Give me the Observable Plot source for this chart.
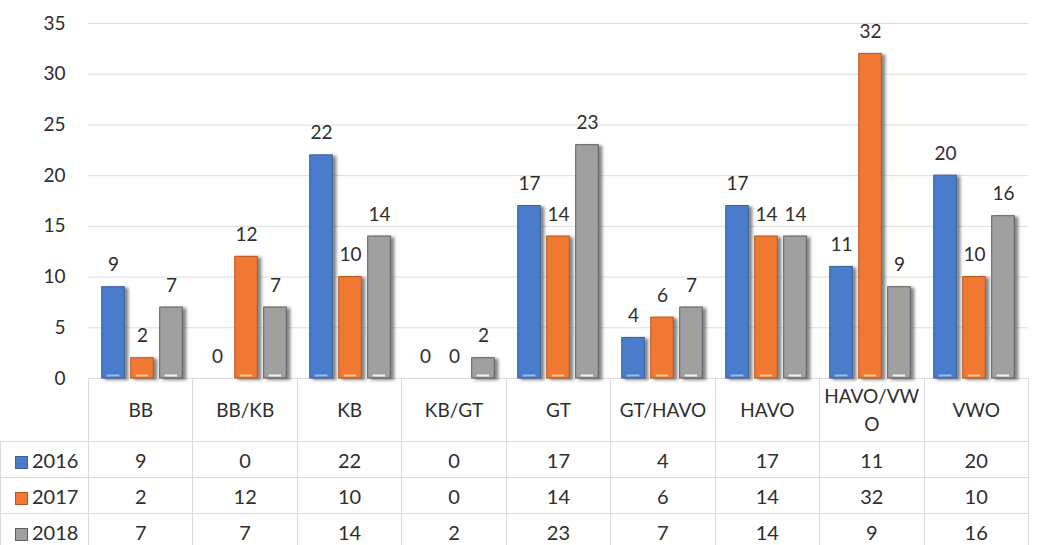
<!DOCTYPE html>
<html>
<head>
<meta charset="utf-8">
<script src="https://cdn.jsdelivr.net/npm/d3@7"></script>
<script src="https://cdn.jsdelivr.net/npm/@observablehq/plot@0.6"></script>
<style>
  body { margin: 0; background: #fff; font-family: Lato, "Open Sans", sans-serif; color: #2e2e2e; }
  #chart svg { display: block; }
  table { border-collapse: collapse; table-layout: fixed; font-size: 20px; margin-top: -2px; }
  td { border: 1px solid #dadada; text-align: center; vertical-align: middle; padding: 0 4px; height: 35px; line-height: 26px; }
  tr.cats td { height: 62px; font-size: 19px; word-break: break-all; line-height: 28px; }
  tr.cats td.blank { border-left: none; border-top: none; border-bottom: 1px solid #dadada; }
  td.key { text-align: left; padding-left: 14px; }
  .sw { display: inline-block; width: 13px; height: 13px; margin-right: 4px; vertical-align: -1px; box-sizing: border-box; }
</style>
</head>
<body>
<div id="chart"></div>
<table id="tbl"></table>
<script>
// ---- data ----
const categories = ["BB", "BB/KB", "KB", "KB/GT", "GT", "GT/HAVO", "HAVO", "HAVO/VWO", "VWO"];
const years = ["2016", "2017", "2018"];
const values2016 = [9, 0, 22, 0, 17, 4, 17, 11, 20];
const values2017 = [2, 12, 10, 0, 14, 6, 14, 32, 10];
const values2018 = [7, 7, 14, 2, 23, 7, 14, 9, 16];
const yTicks = [0, 5, 10, 15, 20, 25, 30, 35];

// ---- styling ----
const series = [values2016, values2017, values2018];
const fills = ["#4a7cca", "#ef7832", "#a0a0a0"];
const edges = ["#3a5f9c", "#b8561c", "#5e5e5e"];
const strips = ["#9cc0ee", "#f8c890", "#f4f4f4"];
const offsets = [-29, 0, 29];
const inset = 40.7;

const rows = categories.map((c, i) => ({cat: c, v: series.map(s => s[i])}));

const marks = [
  Plot.gridY(yTicks, {stroke: "#dcdcdc", strokeOpacity: 1}),
  Plot.axisY(yTicks, {tickSize: 0, tickPadding: 23, fill: "#2e2e2e"})
];
series.forEach((s, j) => {
  marks.push(Plot.barY(rows, {
    x: "cat", y: d => d.v[j], fill: fills[j], stroke: edges[j], strokeWidth: 1,
    insetLeft: inset, insetRight: inset, dx: offsets[j]
  }));
});
series.forEach((s, j) => {
  marks.push(Plot.tickY(rows.filter(d => d.v[j] > 0), {
    x: "cat", y: () => 0, dy: -3, stroke: strips[j], strokeWidth: 2,
    insetLeft: inset + 5, insetRight: inset + 5, dx: offsets[j]
  }));
  marks.push(Plot.text(rows, {
    x: "cat", y: d => d.v[j], text: d => String(d.v[j]), dx: offsets[j], dy: -16,
    lineAnchor: "bottom", fill: "#2e2e2e", fontSize: 19
  }));
});

const plot = Plot.plot({
  width: 1047,
  height: 380,
  marginTop: 23,
  marginBottom: 2,
  marginLeft: 88,
  marginRight: 19,
  style: {fontFamily: "Lato, 'Open Sans', sans-serif", fontSize: "19px", color: "#2e2e2e", background: "#fff", overflow: "visible"},
  x: {domain: categories, padding: 0, axis: null},
  y: {domain: [0, 35], axis: null},
  marks
});

// drop shadow on the bars
const svg = d3.select(plot);
const defs = svg.insert("defs", ":first-child");
const f = defs.append("filter").attr("id", "barShadow").attr("x", "-30%").attr("y", "-10%").attr("width", "170%").attr("height", "125%");
f.append("feDropShadow").attr("dx", 3.5).attr("dy", 1.5).attr("stdDeviation", 1.6).attr("flood-color", "#444").attr("flood-opacity", 0.65);
svg.selectAll("g[aria-label='bar']").attr("filter", "url(#barShadow)");

document.getElementById("chart").appendChild(plot);

// ---- data table ----
const tbl = d3.select("#tbl");
const cg = tbl.append("colgroup");
cg.append("col").style("width", "88px");
categories.forEach(() => cg.append("col").style("width", "104.44px"));
const head = tbl.append("tr").attr("class", "cats");
head.append("td").attr("class", "blank");
categories.forEach(c => head.append("td").text(c));
years.forEach((y, j) => {
  const tr = tbl.append("tr");
  const k = tr.append("td").attr("class", "key");
  k.append("span").attr("class", "sw").style("background", fills[j]).style("border", `1px solid ${edges[j]}`);
  k.append("span").text(y);
  series[j].forEach(v => tr.append("td").text(v));
});
</script>
</body>
</html>
